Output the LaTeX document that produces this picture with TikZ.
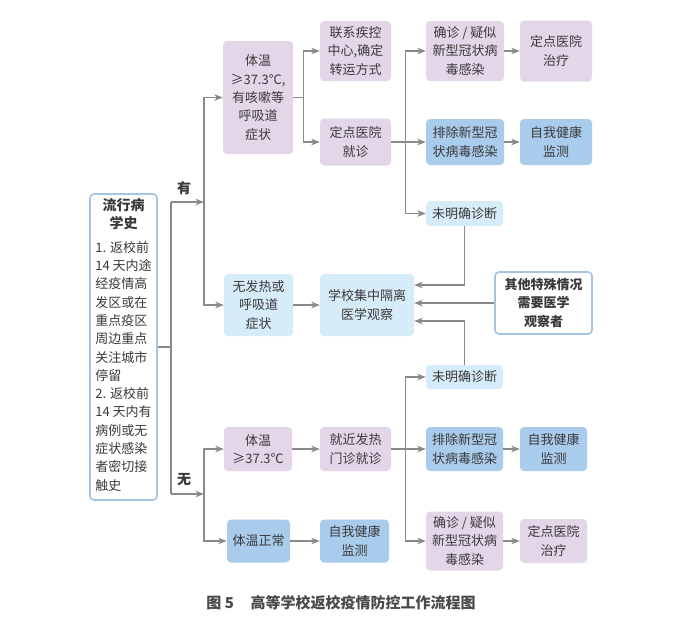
\documentclass[tikz,border=0pt]{standalone}
\usepackage{fontspec}
\setmainfont{Noto Sans CJK SC}
\usetikzlibrary{arrows.meta}
\definecolor{pur}{HTML}{E4D6E9}
\definecolor{lbl}{HTML}{D6ECF8}
\definecolor{mbl}{HTML}{A9CCEC}
\definecolor{bdr}{HTML}{A3C4E4}
\definecolor{lc}{HTML}{8A8A8A}
\definecolor{txt}{HTML}{3A3A3A}
\definecolor{capc}{HTML}{4A4A4A}
\begin{document}
\begin{tikzpicture}[x=1pt,y=-1pt,
  box/.style={rounded corners=4pt, align=center, text=txt, inner sep=0pt,
    font=\fontsize{13}{18.3}\selectfont},
  pbox/.style={box, fill=pur},
  lbox/.style={box, fill=lbl},
  mbox/.style={box, fill=mbl},
  wbox/.style={box, fill=white, draw=bdr, line width=1.6pt},
  ln/.style={draw=lc, line width=1.1pt},
  arr/.style={ln, -{Stealth[length=8.5pt,width=6.5pt,inset=2.5pt]}},
  lab/.style={font=\bfseries\fontsize{14}{16}\selectfont, text=txt, inner sep=0pt}]
\useasboundingbox[fill=white] (0,0) rectangle (694,633);

% main box
\node[wbox, minimum width=67pt, minimum height=306pt] (A) at (123.5,347)
 {{\bfseries\fontsize{14}{17.5}\selectfont\begin{tabular}{@{}c@{}}流行病\\学史\end{tabular}}\\[5pt]
  \begin{tabular}{@{}l@{}}1. 返校前\\14 天内途\\经疫情高\\发区或在\\重点疫区\\周边重点\\关注城市\\停留\\2. 返校前\\14 天内有\\病例或无\\症状感染\\者密切接\\触史\end{tabular}};

% upper branch
\node[pbox, minimum width=70pt, minimum height=113pt] (Y1) at (258,97.5) {体温\\≥37.3℃,\\有咳嗽等\\呼吸道\\症状};
\node[pbox, minimum width=71pt, minimum height=60pt] (C1) at (355.5,51) {联系疾控\\中心,确定\\转运方式};
\node[pbox, minimum width=71pt, minimum height=47pt] (C2) at (355.5,142) {定点医院\\就诊};
\node[pbox, minimum width=78pt, minimum height=60pt] (D1) at (465,51) {确诊 / 疑似\\新型冠状病\\毒感染};
\node[pbox, minimum width=72pt, minimum height=61pt] (E1) at (556,51) {定点医院\\治疗};
\node[mbox, minimum width=78pt, minimum height=46pt] (D2) at (465,142) {排除新型冠\\状病毒感染};
\node[mbox, minimum width=72pt, minimum height=46pt] (E2) at (556,142) {自我健康\\监测};
\node[lbox, minimum width=77pt, minimum height=25pt] (D3) at (464.5,213.5) {未明确诊断};

% middle
\node[lbox, minimum width=69pt, minimum height=62pt] (Y2) at (258.5,305) {无发热或\\呼吸道\\症状};
\node[lbox, minimum width=94pt, minimum height=62pt] (Q) at (367,305) {学校集中隔离\\医学观察};
\node[wbox, font=\bfseries\fontsize{13}{18.3}\selectfont, minimum width=97pt, minimum height=62pt] (O) at (543.5,303) {其他特殊情况\\需要医学\\观察者};

% lower branch
\node[pbox, minimum width=68pt, minimum height=44pt] (N1) at (258,449) {体温\\≥37.3℃};
\node[mbox, minimum width=63pt, minimum height=43pt] (N2) at (258.5,541) {体温正常};
\node[pbox, minimum width=71pt, minimum height=44pt] (M1) at (355.5,449) {就近发热\\门诊就诊};
\node[mbox, minimum width=69pt, minimum height=43pt] (M2) at (354.5,541) {自我健康\\监测};
\node[lbox, minimum width=77pt, minimum height=24pt] (L1) at (464.5,377) {未明确诊断};
\node[mbox, minimum width=77pt, minimum height=44pt] (L2) at (464.5,449) {排除新型冠\\状病毒感染};
\node[mbox, minimum width=67pt, minimum height=44pt] (L3) at (553.5,449) {自我健康\\监测};
\node[pbox, minimum width=77pt, minimum height=59pt] (L4) at (464.5,541) {确诊 / 疑似\\新型冠状病\\毒感染};
\node[pbox, minimum width=67pt, minimum height=44pt] (L5) at (553.5,541) {定点医院\\治疗};

% labels
\node[lab] (you) at (184,188) {有};
\node[lab] (wu) at (184,480) {无};

% caption
\node[font=\bfseries\fontsize{15}{18}\selectfont, text=capc, inner sep=0pt] (cap) at (341,603) {图 5\hspace{1.1em}高等学校返校疫情防控工作流程图};

% connectors from main box
\coordinate (sA) at (171,202);
\coordinate (sB) at (171,494);
\coordinate (tA) at (204,202);
\coordinate (tB) at (204,494);
\draw[ln] (A.east) -- (A.east -| sA);
\draw[ln] (sA) -- (sB);
\draw[arr] (sA) -- (tA);
\draw[arr] (sB) -- (tB);
\draw[arr] (tA) |- (Y1);
\draw[arr] (tA) |- (Y2);
\draw[arr] (tB) |- (N1);
\draw[arr] (tB) |- (N2);

% upper
\draw[arr] (Y1.east) -- ++(10,0) |- (C1);
\draw[arr] (Y1.east) -- ++(10,0) |- (C2);
\draw[arr] (C2.east) -- ++(14,0) |- (D1);
\draw[arr] (C2.east) -- ++(14,0) |- (D2);
\draw[arr] (C2.east) -- ++(14,0) |- (D3);
\draw[arr] (D1) -- (E1);
\draw[arr] (D2) -- (E2);

% middle
\draw[arr] (Y2) -- (Q);
\draw[arr] (D3.south) |- ([yshift=20pt]Q.east);
\draw[arr] (O.west) -- (O.west -| Q.east);
\draw[arr] (L1.north) |- ([yshift=-16pt]Q.east);

% lower
\draw[arr] (N1) -- (M1);
\draw[arr] (N2) -- (M2);
\draw[arr] (M1.east) -- ++(14,0) |- (L1);
\draw[arr] (M1.east) -- ++(14,0) |- (L2);
\draw[arr] (M1.east) -- ++(14,0) |- (L4);
\draw[arr] (L2) -- (L3);
\draw[arr] (L4) -- (L5);
\end{tikzpicture}
\end{document}
